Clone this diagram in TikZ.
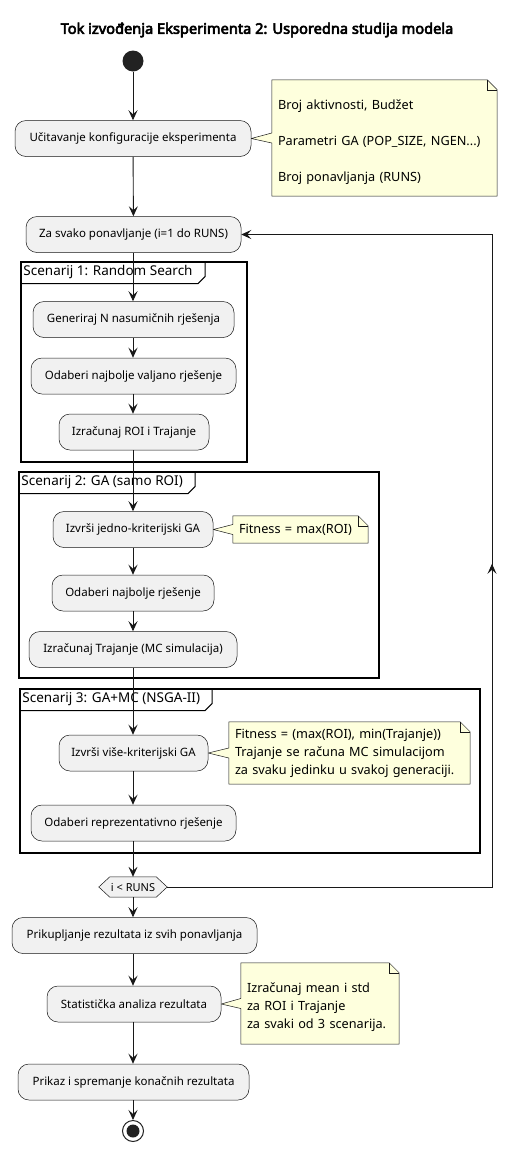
\documentclass[tikz,border=0pt]{standalone}
\usepackage{fontspec}
\setmainfont{Noto Sans}
\newfontfamily\titlefont{Noto Sans}[FakeBold=4]
\usetikzlibrary{arrows.meta,calc,decorations.markings}
\definecolor{actfill}{HTML}{F1F1F1}
\definecolor{lncol}{HTML}{181818}
\definecolor{notefill}{HTML}{FEFFDD}
\definecolor{startcol}{HTML}{222222}
\pgfdeclarelayer{bg}
\pgfsetlayers{bg,main}
\tikzset{
  arr/.style={draw=lncol, line width=0.9pt, -{Stealth[length=10pt,width=9pt,inset=4pt]}},
  act/.style={draw=lncol, fill=actfill, line width=0.5pt, rounded corners=11pt,
    minimum height=36pt, inner sep=0pt, font=\fontsize{11.5}{14}\selectfont},
  notetxt/.style={inner xsep=6pt, inner ysep=0pt, align=left,
    font=\fontsize{12.7}{18}\selectfont, anchor=center},
  notebox/.style={draw=lncol, fill=notefill, line width=0.5pt},
  frm/.style={draw=black, line width=1.5pt, inner sep=0pt},
  frmlabel/.style={anchor=north west, inner xsep=3pt, inner ysep=0pt, minimum height=22pt,
    font=\fontsize{13.5}{16}\selectfont},
}
\newcommand{\drawnote}[2]{% #1 note node, #2 activity node
  \path[notebox] (#1.north west) -- ($(#1.north east)+(-10,0)$) -- ($(#1.north east)+(0,10)$)
    -- (#1.south east) -- (#1.south west) -- ($(#1.west)+(0,5)$) -- (#2.east)
    -- ($(#1.west)+(0,-5)$) -- cycle;
  \draw[lncol, line width=0.5pt] ($(#1.north east)+(-10,0)$) -- ($(#1.north east)+(-10,10)$) -- ($(#1.north east)+(0,10)$);
}
\newcommand{\drawframe}[4]{% #1 frame node, #2 label node name, #3 label, #4 tab right x
  \node[frmlabel] (#2) at (#1.north west) {#3};
  \draw[black, line width=1pt] (#1.north west |- #2.south) -- ($(#4,0 |- #2.south)+(-7,0)$)
    -- ($(#4,0 |- #2.south)+(0,-7)$) -- (#4,0 |- #1.north);
}
\begin{document}
\begin{tikzpicture}[x=1pt,y=-1pt]
\begin{pgfonlayer}{bg}
\fill[white] (0,0) rectangle (516,1152);
\end{pgfonlayer}
\useasboundingbox (0,0) rectangle (516,1152);

\node[font=\titlefont\fontsize{14.6}{17}\selectfont] (title) at (257,30) {Tok izvođenja Eksperimenta 2: Usporedna studija modela};

\node[circle, fill=startcol, minimum size=21pt, inner sep=0pt] (start) at (133,61) {};

\node[act, minimum width=236pt] (A1) at (133,138.5) {Učitavanje konfiguracije eksperimenta};
\node[notetxt, text width=213pt, minimum width=225pt, minimum height=116pt] (N1) at (384.5,138) {~\\Broj aktivnosti, Budžet\\~\\Parametri GA (POP\_SIZE, NGEN...)\\~\\Broj ponavljanja (RUNS)};

\node[act, minimum width=215pt] (A2) at (133.5,234.5) {Za svako ponavljanje (i=1 do RUNS)};

% frames
\node[frm, minimum width=226pt, minimum height=200pt] (F1) at (134,362) {};
\node[frm, minimum width=360pt, minimum height=206pt] (F2) at (199,575) {};
\node[frm, minimum width=460pt, minimum height=164pt] (F3) at (250,771) {};

\node[act, minimum width=201pt] (G1) at (133.5,319.5) {Generiraj N nasumičnih rješenja};
\node[act, minimum width=205pt] (O1) at (133.5,376) {Odaberi najbolje valjano rješenje};
\node[act, minimum width=150pt] (I1) at (134,432) {Izračunaj ROI i Trajanje};

\node[act, minimum width=160pt] (E2) at (133,529.5) {Izvrši jedno-kriterijski GA};
\node[notetxt, text width=123pt, minimum width=135pt, minimum height=27pt] (N2) at (300.5,529.5) {Fitness = max(ROI)};
\node[act, minimum width=162pt] (O2) at (133,593) {Odaberi najbolje rješenje};
\node[act, minimum width=208pt] (I2) at (133,649.5) {Izračunaj Trajanje (MC simulacija)};

\node[act, minimum width=149pt] (E3) at (133.5,753) {Izvrši više-kriterijski GA};
\node[notetxt, text width=229pt, minimum width=241pt, minimum height=62pt] (N3) at (349.5,753) {Fitness = (max(ROI), min(Trajanje))\\Trajanje se računa MC simulacijom\\za svaku jedinku u svakoj generaciji.};
\node[act, minimum width=205pt] (O3) at (133.5,823) {Odaberi reprezentativno rješenje};

\node[minimum width=68pt, minimum height=20pt, inner sep=0pt, font=\fontsize{11}{13}\selectfont] (D) at (133,887) {i < RUNS};

\node[act, minimum width=245pt] (P) at (134.5,935.5) {Prikupljanje rezultata iz svih ponavljanja};
\node[act, minimum width=174pt] (S) at (134,1004) {Statistička analiza rezultata};
\node[notetxt, text width=146pt, minimum width=158pt, minimum height=81pt] (N4) at (320,1003.5) {~\\Izračunaj mean i std\\za ROI i Trajanje\\za svaki od 3 scenarija.};
\node[act, minimum width=231pt] (Pr) at (133.5,1082) {Prikaz i spremanje konačnih rezultata};

\node[circle, draw=startcol, line width=1pt, fill=white, minimum size=21pt, inner sep=0pt,
  path picture={\fill[startcol] (path picture bounding box.center) circle (6.5pt);}] (end) at (133,1131) {};

% shapes behind text
\begin{pgfonlayer}{bg}
\drawnote{N1}{A1}
\drawnote{N2}{E2}
\drawnote{N3}{E3}
\drawnote{N4}{S}
\draw[lncol, fill=actfill, line width=0.5pt] (D.west) -- ($(D.north west)+(11,0)$) -- ($(D.north east)+(-11,0)$) -- (D.east)
  -- ($(D.south east)+(-11,0)$) -- ($(D.south west)+(11,0)$) -- cycle;
\end{pgfonlayer}

% frame tabs
\drawframe{F1}{L1}{Scenarij 1: Random Search}{205}
\drawframe{F2}{L2}{Scenarij 2: GA (samo ROI)}{195}
\drawframe{F3}{L3}{Scenarij 3: GA+MC (NSGA-II)}{212}

% connectors
\draw[arr] (start) -- (A1);
\draw[arr] (A1) -- (A2);
\draw[arr] (A2.south -| 133,0) -- (G1.north -| 133,0);
\draw[arr] (G1.south -| 133,0) -- (O1.north -| 133,0);
\draw[arr] (O1.south -| 133,0) -- (I1.north -| 133,0);
\draw[arr] (I1.south -| 133,0) -- (E2.north -| 133,0);
\draw[arr] (E2) -- (O2);
\draw[arr] (O2) -- (I2);
\draw[arr] (I2) -- (E3.north -| 133,0);
\draw[arr] (E3.south -| 133,0) -- (O3.north -| 133,0);
\draw[arr] (O3.south -| 133,0) -- (D.north);
\draw[arr] (D.south) -- (P.north -| 133,0);
\draw[arr] (P.south -| 133,0) -- (S.north -| 133,0);
\draw[arr] (S.south -| 133,0) -- (Pr.north -| 133,0);
\draw[arr] (Pr.south -| 133,0) -- (end);
\draw[arr, postaction={decorate}, decoration={markings,
  mark=at position 648pt with {\arrow{Stealth[length=10pt,width=9pt,inset=4pt]}}}]
  (D.east) -- (492,887) -- (492,234.5) -- (A2.east);
\end{tikzpicture}
\end{document}
